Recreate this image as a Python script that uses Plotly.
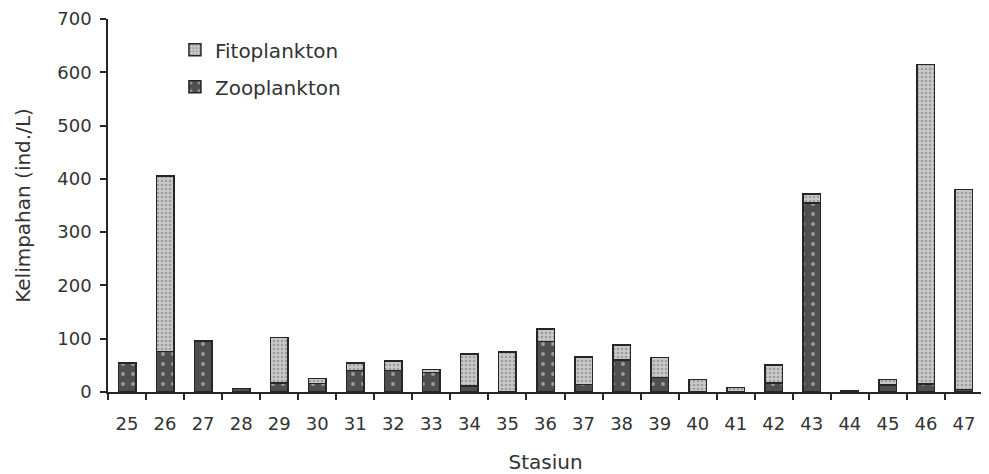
import plotly.graph_objects as go

stasiun = ["25", "26", "27", "28", "29", "30", "31", "32", "33", "34", "35", "36",
           "37", "38", "39", "40", "41", "42", "43", "44", "45", "46", "47"]
zooplankton = [54, 76, 96, 7, 17, 16, 40, 40, 37, 11, 0, 95,
               14, 60, 27, 0, 0, 17, 355, 3, 13, 15, 5]
fitoplankton = [0, 329, 0, 0, 85, 9, 14, 18, 5, 60, 75, 23,
                52, 28, 38, 23, 8, 34, 17, 0, 10, 600, 375]
y_ticks = [0, 100, 200, 300, 400, 500, 600, 700]

FONT = "DejaVu Sans"
TXT = "#333333"
LINE = "#262626"

fig = go.Figure()
fig.add_trace(go.Bar(
    x=stasiun, y=zooplankton, name="Zooplankton", legendgroup="z", legendrank=2,
    marker=dict(
        color="#4f4f4f",
        line=dict(color=LINE, width=1.5),
        pattern=dict(shape=".", bgcolor="#4f4f4f", fgcolor="#e8e8e8",
                     size=10, solidity=0.12),
    ),
))
fig.add_trace(go.Bar(
    x=stasiun, y=fitoplankton, name="Fitoplankton", legendgroup="f", legendrank=1,
    marker=dict(
        color="#c0c0c0",
        line=dict(color=LINE, width=1.5),
        pattern=dict(shape=".", bgcolor="#c8c8c8", fgcolor="#6e6e6e",
                     size=4, solidity=0.3),
    ),
))

fig.update_layout(
    width=981, height=466,
    barmode="stack", bargap=0.54,
    paper_bgcolor="white", plot_bgcolor="white",
    margin=dict(l=100, r=6, t=11, b=82, autoexpand=False),
    font=dict(family=FONT, size=18, color=TXT),
    showlegend=True,
    legend=dict(
        x=0.0765, xanchor="left", y=0.97, yanchor="top",
        traceorder="grouped", tracegroupgap=8,
        bgcolor="rgba(0,0,0,0)", font=dict(family=FONT, size=20, color=TXT),
    ),
    xaxis=dict(
        type="category", tickson="boundaries",
        showline=True, linecolor=LINE, linewidth=1.5,
        ticks="outside", ticklen=6, tickwidth=1.5, tickcolor=LINE,
        tickfont=dict(family=FONT, size=18, color=TXT),
        ticklabelstandoff=15,
        showgrid=False, zeroline=False,
        title=dict(text="Stasiun", font=dict(family=FONT, size=20, color=TXT), standoff=22),
    ),
    yaxis=dict(
        range=[0, 700], tickvals=y_ticks,
        showline=True, linecolor=LINE, linewidth=1.5,
        ticks="outside", ticklen=6, tickwidth=1.5, tickcolor=LINE,
        tickfont=dict(family=FONT, size=18, color=TXT),
        ticklabelstandoff=5,
        showgrid=False, zeroline=False,
        title=dict(text="Kelimpahan (ind./L)", font=dict(family=FONT, size=20, color=TXT), standoff=21),
    ),
)

fig.write_html("out.html")
